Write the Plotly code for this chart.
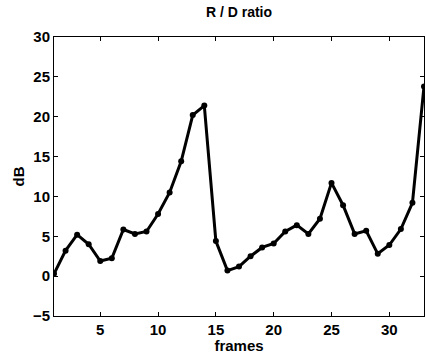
import plotly.graph_objects as go

frames = list(range(1, 34))
rd_db = [0.3, 3.2, 5.2, 4.0, 1.9, 2.25, 5.85, 5.3, 5.6, 7.8, 10.5, 14.4, 20.2, 21.4,
         4.4, 0.7, 1.2, 2.5, 3.6, 4.1, 5.6, 6.4, 5.3, 7.2, 11.7, 8.9, 5.3, 5.7,
         2.8, 3.9, 5.9, 9.2, 23.8]
x_ticks = [5, 10, 15, 20, 25, 30]
y_ticks = [-5, 0, 5, 10, 15, 20, 25, 30]

fig = go.Figure(go.Scatter(
    x=frames, y=rd_db, mode="lines+markers",
    line=dict(color="black", width=3),
    marker=dict(color="black", size=6),
))

fam = "Arimo, Liberation Sans, Arial, sans-serif"
fig.update_layout(
    width=426, height=354,
    margin=dict(l=54, r=2, t=37, b=38),
    paper_bgcolor="white", plot_bgcolor="white",
    showlegend=False,
    title=dict(text="<b>R / D ratio</b>", x=0.5, xanchor="center", xref="paper",
               y=1, yref="container", yanchor="top", pad=dict(t=7),
               font=dict(family=fam, size=14, color="black", weight=700)),
    font=dict(family=fam, size=14, color="black", weight=700),
)
axis_common = dict(showline=True, linecolor="black", linewidth=1, mirror="ticks",
                   ticks="inside", ticklen=4, tickcolor="black", showgrid=False,
                   zeroline=False,
                   tickfont=dict(family=fam, size=15, color="black", weight=700))
fig.update_xaxes(range=[1, 33], tickvals=x_ticks,
                 title=dict(text="frames", standoff=0,
                            font=dict(family=fam, size=15, color="black", weight=700)),
                 **axis_common)
fig.update_yaxes(range=[-5, 30], tickvals=y_ticks,
                 title=dict(text="dB", standoff=4,
                            font=dict(family=fam, size=15, color="black", weight=700)),
                 **axis_common)

fig.write_html("out.html")
